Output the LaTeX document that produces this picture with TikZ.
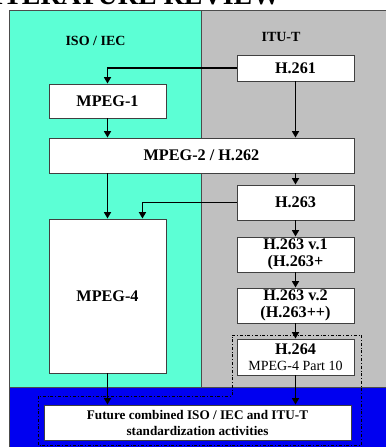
\documentclass[tikz,border=0pt]{standalone}
\usepackage{fontspec}
\setmainfont{Liberation Serif}
\usetikzlibrary{arrows.meta}
\usetikzlibrary{calc}

\definecolor{isocyan}{RGB}{92,255,213}
\definecolor{itugray}{RGB}{192,192,192}
\definecolor{futblue}{RGB}{0,0,240}

\tikzset{
  stdbox/.style={draw=black!75, fill=white, line width=0.9pt, inner sep=0pt,
    minimum width=117pt, align=center, font=\fontsize{16.2}{17.5}\selectfont\bfseries},
  flow/.style={line width=1.9pt, -{Triangle[length=6.5pt,width=7pt]}},
  frame/.style={line width=0.6pt, dash dot},
}

\begin{document}
\begin{tikzpicture}[x=1pt,y=-1pt]
    \useasboundingbox (0,0) rectangle (386,447);
    %\draw[step=10, gray,very thin] (0,0) grid (386,447);
    \begin{scope}
    \clip (0,0) rectangle (386,447);
    \node[anchor=base east, font=\fontsize{28}{30}\selectfont\bfseries] (title) at (284,5) {LITERATURE REVIEW};
    \end{scope}

    % the three bodies
    \fill[isocyan] (9,10) rectangle (201,387);
    \fill[itugray] (201,10) rectangle (386,387);
    \fill[futblue] (9,387) rectangle (386,447);
    \begin{scope}[draw=black!70, line width=0.8pt]
    \draw (9,447) -- (9,10) -- (386,10);
    \draw (201,10) -- (201,387);
    \draw (9,387) -- (386,387);
    \end{scope}
    \node[font=\fontsize{14}{15}\selectfont\bfseries] (iso) at (95.5,41) {ISO / IEC};
    \node[font=\fontsize{14}{15}\selectfont\bfseries] (itu) at (281,37) {ITU-T};

    % standards
    \node[stdbox, minimum height=26pt] (h261) at (295.5,68) {H.261};
    \node[stdbox, minimum height=34pt] (mpeg1) at (107.5,101) {MPEG-1};
    \node[stdbox, minimum height=35pt, minimum width=305pt] (mpeg2) at (201.5,155.5) {MPEG-2 / H.262};
    \node[stdbox, minimum height=35pt] (h263) at (295.5,202.5) {H.263};
    \node[stdbox, minimum height=154pt] (mpeg4) at (107.5,296) {MPEG-4};
    \node[stdbox, minimum height=35pt] (h263a) at (295.5,254.5) {H.263 v.1\\(H.263+};
    \node[stdbox, minimum height=35pt] (h263b) at (295.5,305.5) {H.263 v.2\\(H.263++)};
    \node[stdbox, minimum height=36pt] (h264) at (295.5,357)
        {H.264\\[-1pt]{\fontsize{14}{15}\selectfont\mdseries MPEG-4 Part 10}};
    \node[stdbox, minimum height=35pt, minimum width=307pt,
          font=\fontsize{13.2}{16}\selectfont\bfseries] (future) at (197.5,422.5)
        {Future combined ISO / IEC and ITU-T\\standardization activities};

    % joint work
    \draw[frame] (232,335) -- (361,335) -- (361,445) -- (38,445) -- (38,396) -- (232,396) -- cycle;

    % lines of descent
    \draw[flow] (h261.west) -| (mpeg1.north);
    \draw[flow] (h261.south) -- (h261.south |- mpeg2.north);
    \draw[flow] (mpeg1.south) -- (mpeg1.south |- mpeg2.north);
    \draw[flow] (mpeg2.south -| h263.north) -- (h263.north);
    \draw[flow] (mpeg2.south -| mpeg4.north) -- (mpeg4.north);
    \draw[flow] (h263.west) -| ([xshift=-24pt]mpeg4.north east);
    \foreach \a/\b in {h263/h263a, h263a/h263b, h263b/h264}
        \draw[flow] (\a.south) -- (\b.north);
    \draw[flow] (h264.south) -- (h264.south |- future.north);
    \draw[flow] (mpeg4.south) -- (mpeg4.south |- future.north);
\end{tikzpicture}
\end{document}
